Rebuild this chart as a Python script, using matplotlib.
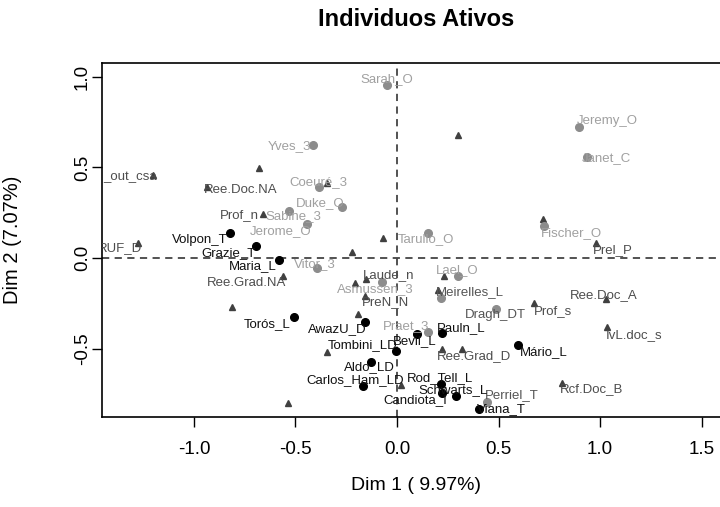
#importing matplotlib
import matplotlib.pyplot as plt

plt.rcParams['font.family'] = ['Liberation Sans', 'DejaVu Sans']

#active individuals (black)
ativos = ["Volpon_T", "Grazie_T", "Maria_L", "Torós_L", "AwazU_D", "Tombini_LD",
          "Aldo_LD", "Carlos_Ham_LD", "Bevil_L", "Pauln_L", "Mário_L", "Rod_Tell_L",
          "Schwarts_L", "Candiota_I", "Viana_T"]
ativos_x = [-0.823, -0.696, -0.581, -0.507, -0.158, -0.005, -0.130, -0.166, 0.097,
            0.223, 0.598, 0.217, 0.291, 0.223, 0.405]
ativos_y = [0.136, 0.068, -0.011, -0.328, -0.352, -0.512, -0.576, -0.706, -0.422,
            -0.416, -0.481, -0.698, -0.761, -0.744, -0.836]

#supplementary individuals (grey)
sup = ["Sarah_O", "Yves_3", "Coeuré_3", "Duke_O", "Sabine_3", "Jerome_O", "Jeremy_O",
       "Janet_C", "Fischer_O", "Tarullo_O", "Vitor_3", "Lael_O", "Asmussen_3", "Praet_3",
       "Meirelles_L", "Dragh_DT", "Perriel_T"]
sup_x = [-0.051, -0.415, -0.383, -0.272, -0.533, -0.442, 0.897, 0.934, 0.726, 0.154,
         -0.396, 0.299, -0.075, 0.154, 0.215, 0.488, 0.442]
sup_y = [0.956, 0.624, 0.391, 0.280, 0.261, 0.188, 0.722, 0.560, 0.178, 0.136,
         -0.057, -0.098, -0.131, -0.410, -0.223, -0.283, -0.794]

#categories (triangles), empty name = no label
mod = ["_out_csa", "RUF_D", "Ree.Doc.NA", "Prof_n", "Ree.Grad.NA", "Laude_n", "PreN_N",
       "Prel_P", "Ree.Doc_A", "Prof_s", "IvL.doc_s", "Rcf.Doc_B", "Ree.Grad_D",
       "", "", "", "", "", "", "", "", "", "", "", "", "", "", ""]
mod_x = [-1.200, -1.277, -0.934, -0.662, -0.560, -0.154, -0.158, 0.980, 1.028, 0.675,
         1.033, 0.811, 0.319, 0.220, -0.678, 0.302, 0.718, -0.070, -0.220, -0.814,
         -0.191, -0.207, -0.343, -0.539, 0.020, 0.202, 0.233, -0.343]
mod_y = [0.459, 0.085, 0.394, 0.243, -0.099, -0.116, -0.210, 0.081, -0.228, -0.250,
         -0.380, -0.692, -0.504, -0.504, 0.496, 0.680, 0.215, 0.109, 0.031, -0.273,
         -0.309, -0.140, -0.518, -0.799, -0.703, -0.177, -0.099, 0.416]

#label offsets in pixels (dx, dy)
offsets = {
    "Volpon_T": (-30, -7), "Grazie_T": (-27, -7), "Maria_L": (-26, -6), "Torós_L": (-27, -7),
    "AwazU_D": (-28, -7), "Tombini_LD": (-33, 6), "Aldo_LD": (-1, -5), "Carlos_Ham_LD": (-8, 6),
    "Bevil_L": (-2, -7), "Pauln_L": (19, 5), "Mário_L": (25, -7), "Rod_Tell_L": (-1, 6),
    "Schwarts_L": (-3, 6), "Candiota_I": (-27, -7), "Viana_T": (22, 0),
    "Sarah_O": (0, 6), "Yves_3": (-23, -1), "Coeuré_3": (-1, 5), "Duke_O": (-22, 4),
    "Sabine_3": (5, -5), "Jerome_O": (-27, -7), "Jeremy_O": (28, 6), "Janet_C": (20, -1),
    "Fischer_O": (27, -7), "Tarullo_O": (-2, -6), "Vitor_3": (-2, 4), "Lael_O": (-1, 6),
    "Asmussen_3": (-7, -7), "Praet_3": (-22, 6), "Meirelles_L": (29, 6), "Dragh_DT": (-1, -6),
    "Perriel_T": (25, 7),
    "_out_csa": (-23, -2), "RUF_D": (-18, -5), "Ree.Doc.NA": (33, -3), "Prof_n": (-23, -1),
    "Ree.Grad.NA": (-37, -7), "Laude_n": (23, 4), "PreN_N": (21, -6), "Prel_P": (17, -7),
    "Ree.Doc_A": (-2, 4), "Prof_s": (19, -8), "IvL.doc_s": (27, -8), "Rcf.Doc_B": (30, -6),
    "Ree.Grad_D": (12, -7),
}
dark_sup = ["Meirelles_L", "Dragh_DT", "Perriel_T"]

fig = plt.figure(figsize=(7.2, 5.07), dpi=100)
ax = fig.add_axes([102 / 720, 1 - 417 / 507, 628 / 720, 354 / 507])

#reference lines
ax.axhline(0, color="#444444", lw=1.3, ls=(0, (4, 3)), zorder=1)
ax.axvline(0, color="#444444", lw=1.3, ls=(0, (4, 3)), zorder=1)

#points
ax.plot(mod_x, mod_y, "^", color="#404040", ms=5, ls="none", zorder=3)
ax.plot(sup_x, sup_y, "o", color="#8c8c8c", ms=5.5, ls="none", zorder=3)
ax.plot(ativos_x, ativos_y, "o", color="black", ms=5.5, ls="none", zorder=4)

#labels
def put_labels(names, xs, ys, color):
    for n, x, y in zip(names, xs, ys):
        if n == "":
            continue
        c = color
        if n in dark_sup:
            c = "#555555"
        dx, dy = offsets[n]
        ax.annotate(n, (x, y), xytext=(dx, dy), textcoords="offset pixels",
                    ha="center", va="center", fontsize=9.5, color=c,
                    annotation_clip=False, clip_on=True, zorder=5)

put_labels(mod, mod_x, mod_y, "#4d4d4d")
put_labels(sup, sup_x, sup_y, "#a0a0a0")
put_labels(ativos, ativos_x, ativos_y, "#111111")

ax.set_xlim(-1.453, 1.640)
ax.set_ylim(-0.878, 1.077)
ax.set_xticks([-1.0, -0.5, 0.0, 0.5, 1.0, 1.5])
ax.set_yticks([-0.5, 0.0, 0.5, 1.0])
ax.set_xticklabels(["-1.0", "-0.5", "0.0", "0.5", "1.0", "1.5"])
ax.set_yticklabels(["-0.5", "0.0", "0.5", "1.0"], rotation=90, va="center")
ax.tick_params(direction="out", length=7, width=1, labelsize=13.5)
ax.tick_params(axis="x", pad=10)
ax.tick_params(axis="y", pad=1)

for s in ax.spines.values():
    s.set_linewidth(1.2)

ax.set_xlabel("Dim 1 ( 9.97%)", fontsize=14, labelpad=14)
ax.set_ylabel("Dim 2 (7.07%)", fontsize=14.5)
ax.yaxis.set_label_coords(-0.127, 0.5)
fig.text(416 / 720, 1 - 19 / 507, "Individuos Ativos", ha="center", va="center",
         fontsize=17, fontweight="bold")

plt.savefig("out.png", dpi=100)
